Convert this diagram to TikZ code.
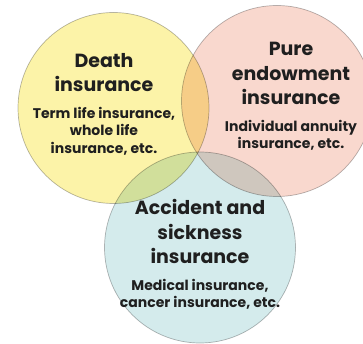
\documentclass[tikz,border=0pt]{standalone}
\usepackage{fontspec}
\setmainfont{Poppins}
\usetikzlibrary{positioning}

\definecolor{deathyellow}{RGB}{252,243,168}
\definecolor{purepink}{RGB}{249,216,206}
\definecolor{accidentblue}{RGB}{212,235,236}

\begin{document}
\begin{tikzpicture}[x=1pt, y=-1pt,
    ring/.style={circle, draw=black!28, line width=0.7pt, minimum size=191pt, inner sep=0pt},
    title/.style={align=center, inner sep=0pt, text=black!88,
        font=\fontsize{19}{24.7}\selectfont\bfseries},
    detail/.style={align=center, inner sep=0pt, text=black!88,
        font=\fontsize{14}{17.5}\selectfont\bfseries}]
    \useasboundingbox (0,0) rectangle (363,344);

    % Circles {death, pure, accident}
    \begin{scope}[blend group=multiply]
    \node [ring, fill=deathyellow] 	(death) 	at (113.5,108) {};
    \node [ring, fill=purepink] 	(pure) 		at (277,101)   {};
    \node [ring, fill=accidentblue] (accident) 	at (200,247.5) {};
    \end{scope}

    % Labels
    \node [title, anchor=north] 	(deathtitle) 	at (104,53)  {Death\\insurance};
    \node [detail, below=14.5pt of deathtitle] 	(deathdetail) 	{Term life insurance,\\whole life\\insurance, etc.};
    \node [title, anchor=north] 	(puretitle) 	at (291,42)  {Pure\\endowment\\insurance};
    \node [detail, below=14.5pt of puretitle] 	(puredetail) 	{Individual annuity\\insurance, etc.};
    \node [title, anchor=north] 	(accidenttitle) at (200,199) {Accident and\\sickness\\insurance};
    \node [detail, below=14.5pt of accidenttitle] (accidentdetail) {Medical insurance,\\cancer insurance, etc.};
\end{tikzpicture}
\end{document}
